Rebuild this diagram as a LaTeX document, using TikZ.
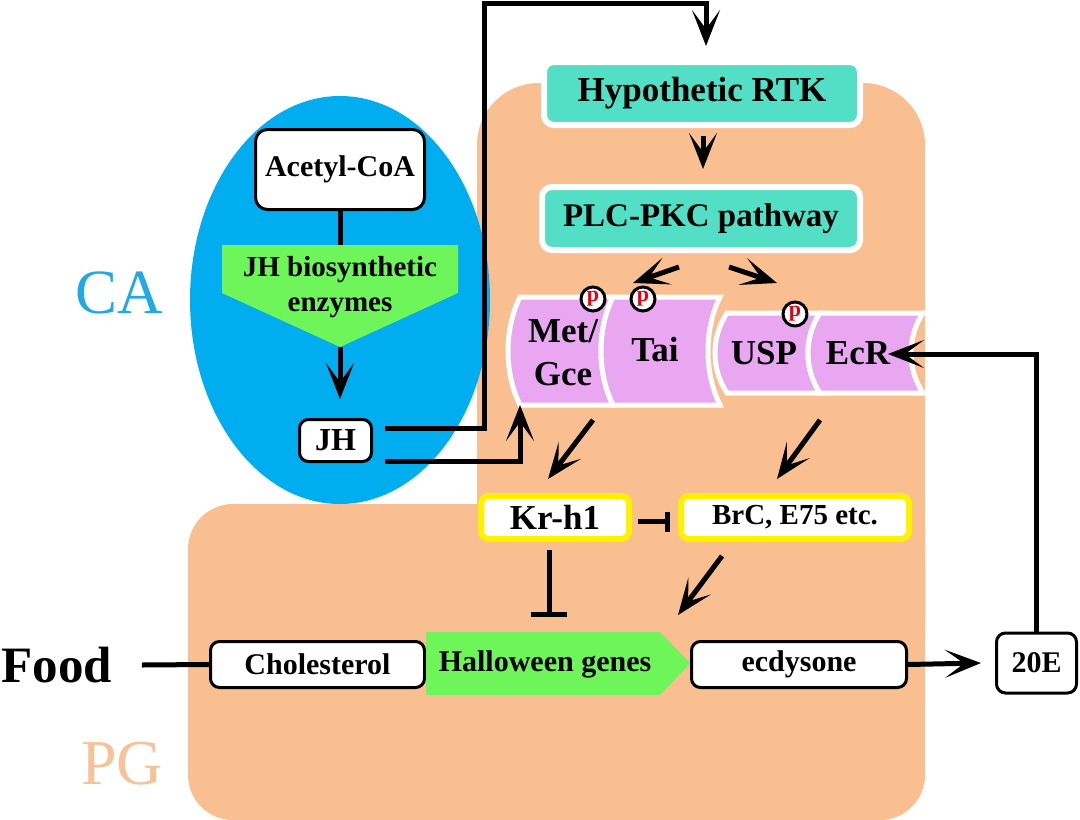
\documentclass[tikz,border=0pt]{standalone}
\usepackage{fontspec}
\setmainfont{Liberation Serif}
\usetikzlibrary{arrows.meta}
\definecolor{pgorange}{HTML}{F9BF90}
\definecolor{cablue}{HTML}{00AEEF}
\definecolor{catext}{HTML}{22A8E2}
\definecolor{pgtext}{HTML}{F7C29A}
\definecolor{cylpink}{HTML}{E9A7F2}
\definecolor{greenc}{HTML}{6DF55A}
\definecolor{tealc}{HTML}{52DFC6}
\definecolor{yellowc}{HTML}{FFF200}
\definecolor{redp}{HTML}{E60012}
\newcommand\cylseg[5]{%
  \filldraw[fill=cylpink,draw=white,line width=5pt]
    (#1,#3) -- (#2,#3)
    .. controls ({#2-1.333*#5},{#3+0.3*(#4-#3)}) and ({#2-1.333*#5},{#4-0.3*(#4-#3)}) .. (#2,#4)
    -- (#1,#4)
    .. controls ({#1-1.333*#5},{#4-0.3*(#4-#3)}) and ({#1-1.333*#5},{#3+0.3*(#4-#3)}) .. (#1,#3)
    -- cycle;}
\begin{document}
\begin{tikzpicture}[x=1pt,y=-1pt,
  wbox/.style={draw=black,line width=3pt,fill=white,rounded corners=9pt,inner sep=0pt,
    font=\fontsize{30}{36}\selectfont\bfseries},
  tealbox/.style={draw=white,line width=6pt,fill=tealc,rounded corners=10pt,inner sep=0pt},
  ybox/.style={draw=yellowc,line width=6pt,fill=white,rounded corners=8pt,inner sep=0pt},
  cyltext/.style={inner sep=0pt,font=\fontsize{35}{43}\selectfont\bfseries,align=center},
  pcirc/.style={circle,draw=black,line width=3pt,fill=white,minimum size=24pt,inner sep=0pt,
    text=redp,font=\fontsize{22}{22}\selectfont\bfseries},
  conn/.style={line width=5pt},
  arr/.style={line width=5pt,-{Stealth[length=36pt,width=28pt,inset=19pt]}},
  inh/.style={line width=5pt,-{Bar[width=#1]}}
]
\useasboundingbox (0,0) rectangle (1080,820);
% background regions
\fill[pgorange,rounded corners=62pt] (477,83) rectangle (925,700);
\fill[pgorange,rounded corners=45pt] (188,504) rectangle (925,820);
\fill[cablue] (340,300) ellipse [x radius=150pt,y radius=204pt];
% region labels
\node[font=\fontsize{63}{70}\selectfont,text=catext] (ca) at (119,293) {CA};
\node[font=\fontsize{64}{70}\selectfont,text=pgtext] (pg) at (122,764) {PG};
\node[font=\fontsize{51}{60}\selectfont\bfseries] (food) at (57,665) {Food};
% CA part
\node[wbox,minimum width=169pt,minimum height=80pt,rounded corners=12pt] (acetyl) at (340,169.5) {Acetyl-CoA};
\fill[greenc] (222,245) -- (458,245) -- (458,293) -- (340,347) -- (222,293) -- cycle;
\node[font=\fontsize{29}{35}\selectfont\bfseries,align=center,inner sep=0pt] (jhbio) at (340,287) {JH biosynthetic\\enzymes};
\coordinate (pentTop) at (340,245);
\coordinate (pentTip) at (340,347);
\node[wbox,minimum width=72pt,minimum height=42pt,font=\fontsize{32}{38}\selectfont\bfseries] (jh) at (335.5,440.5) {JH};
% signalling boxes
\node[tealbox,minimum width=316pt,minimum height=63pt,font=\fontsize{35}{40}\selectfont\bfseries] (rtk) at (702,93.5) {Hypothetic RTK};
\node[tealbox,minimum width=318pt,minimum height=63pt,font=\fontsize{33}{40}\selectfont\bfseries] (plc) at (701,218.5) {PLC-PKC pathway};
% receptor cylinders
\cylseg{520}{613}{297}{405}{12}
\cylseg{613}{720}{297}{405}{12}
\cylseg{727}{820}{313}{393}{12}
\cylseg{820}{923}{313}{393}{12}
\node[cyltext] (met) at (563,353) {Met/\\Gce};
\node[cyltext] (tai) at (655,350) {Tai};
\node[cyltext] (usp) at (764,353) {USP};
\node[cyltext] (ecr) at (858,353) {EcR};
\node[pcirc] (p1) at (593,299) {p};
\node[pcirc] (p2) at (643,299) {p};
\node[pcirc] (p3) at (795,314) {p};
% response genes
\node[ybox,minimum width=148pt,minimum height=43pt,font=\fontsize{35}{40}\selectfont\bfseries] (kr) at (555,517.5) {Kr-h1};
\node[ybox,minimum width=228pt,minimum height=43pt,font=\fontsize{29}{36}\selectfont\bfseries] (brc) at (795,517.5) {BrC, E75 etc.};
% steroid pathway
\node[wbox,minimum width=214pt,minimum height=46pt] (chol) at (317.5,664.5) {Cholesterol};
\fill[greenc] (426,632) -- (660,632) -- (690,663.5) -- (660,695) -- (426,695) -- cycle;
\node[font=\fontsize{30}{36}\selectfont\bfseries,inner sep=0pt] (hall) at (545,664) {Halloween genes};
\node[wbox,minimum width=215pt,minimum height=46pt] (ecd) at (799,664.5) {ecdysone};
\node[wbox,minimum width=80pt,minimum height=60pt] (e20) at (1036.5,663) {20E};
% free ends
\coordinate (topL) at (484,3);
\coordinate (rtkIn) at (706,46);
\coordinate (recIn) at (520,405);
\coordinate (metIn) at (633,283);
\coordinate (uspIn) at (777,283);
\coordinate (metOut) at (593,420);
\coordinate (uspOut) at (820,420);
\coordinate (hallInh) at (549,617);
\coordinate (hallIn) at (678,615);
\coordinate (ecrIn) at (888,354);
% connectors
\draw[conn] (acetyl.south) -- (pentTop);
\draw[arr] (pentTip) -- ([xshift=4.5pt,yshift=19pt]jh.north);
\draw[arr] ([xshift=12pt,yshift=12pt]jh.east) -| (topL) -| (rtkIn);
\draw[arr] ([xshift=12pt,yshift=-21pt]jh.east) -| (recIn);
\draw[arr] ([xshift=1pt,yshift=-8pt]rtk.south) -- ([xshift=2pt,yshift=15pt]plc.north);
\draw[arr] ([xshift=-22pt,yshift=-14pt]plc.south) -- (metIn);
\draw[arr] ([xshift=28pt,yshift=-14pt]plc.south) -- (uspIn);
\draw[arr] (metOut) -- ([xshift=-7pt,yshift=14pt]kr.north);
\draw[arr] (uspOut) -- ([xshift=-18pt,yshift=14pt]brc.north);
\draw[inh=20pt] ([xshift=6pt,yshift=-4pt]kr.east) -- ([xshift=-8pt,yshift=-4pt]brc.west);
\draw[inh=36pt] ([xshift=-6pt,yshift=-8pt]kr.south) -- (hallInh);
\draw[arr] ([xshift=-73pt,yshift=-14pt]brc.south) -- (hallIn);
\draw[conn] ([xshift=26pt]food.east) -- (chol.west);
\draw[arr] (ecd.east) -- ([xshift=-14pt]e20.west);
\draw[arr] (e20.north) |- (ecrIn);
\end{tikzpicture}
\end{document}
